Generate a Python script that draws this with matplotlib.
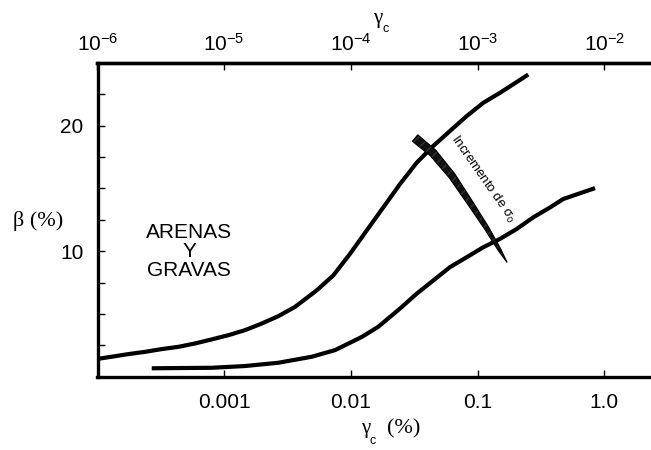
import numpy as np
import matplotlib
matplotlib.use("Agg")
import matplotlib.pyplot as plt
from matplotlib.patches import Polygon

plt.rcParams['font.family'] = ['Liberation Sans', 'DejaVu Sans']
plt.rcParams['mathtext.fontset'] = 'custom'
plt.rcParams['mathtext.rm'] = 'Liberation Sans'
plt.rcParams['mathtext.it'] = 'Liberation Sans'

# curva superior (gamma_c en %, beta en %)
x_sup = [1.0e-4, 1.29e-4, 1.75e-4, 2.37e-4, 3.21e-4, 4.35e-4, 5.89e-4, 7.96e-4,
         1.08e-3, 1.46e-3, 1.98e-3, 2.67e-3, 3.62e-3, 5.37e-3, 7.26e-3,
         9.84e-3, 1.33e-2, 1.80e-2, 2.44e-2, 3.31e-2, 4.47e-2, 6.05e-2, 8.20e-2,
         0.111, 0.150, 0.204, 0.251]
b_sup = [1.42, 1.59, 1.80, 1.98, 2.20, 2.38, 2.65, 2.97,
         3.31, 3.71, 4.24, 4.82, 5.56, 6.88, 8.07,
         9.79, 11.64, 13.49, 15.35, 17.06, 18.39, 19.58, 20.77,
         21.83, 22.62, 23.49, 24.08]

# curva inferior
x_inf = [2.68e-4, 4.35e-4, 7.96e-4, 1.46e-3, 2.67e-3, 4.91e-3, 7.50e-3, 1.22e-2,
         1.64e-2, 2.44e-2, 3.31e-2, 4.47e-2, 6.05e-2, 8.20e-2, 0.111, 0.150,
         0.204, 0.275, 0.373, 0.474, 0.845]
b_inf = [0.67, 0.69, 0.71, 0.85, 1.11, 1.59, 2.12, 3.17,
         3.97, 5.43, 6.62, 7.67, 8.73, 9.52, 10.32, 10.98,
         11.78, 12.70, 13.49, 14.16, 15.03]

# flecha "incremento de sigma_0" (eje central y semiancho en px)
x_band = [0.0321, 0.0445, 0.0628, 0.0871, 0.1186, 0.150, 0.171]
b_band = [19.02, 17.83, 16.01, 13.87, 11.80, 10.06, 9.10]
w_band = [4.2, 3.9, 3.4, 2.8, 2.2, 1.4, 0.0]

xticks_bot = [0.001, 0.01, 0.1, 1.0]
xlabels_bot = ['0.001', '0.01', '0.1', '1.0']
xticks_top = [1e-6, 1e-5, 1e-4, 1e-3, 1e-2]
xlabels_top = ['$10^{-6}$', '$10^{-5}$', '$10^{-4}$', '$10^{-3}$', '$10^{-2}$']
yticks = np.arange(2.5, 25, 2.5)

W, H = 651, 450
x0, dec = 97.5, 126.7   # px del borde izquierdo (1e-4 %) y de una decada

fig = plt.figure(figsize=(W / 100, H / 100), dpi=100)
ax = fig.add_axes([x0 / W, 1 - 376.7 / H, 1 - x0 / W, (376.7 - 63) / H])

ax.plot(x_sup, b_sup, color='black', lw=3, solid_capstyle='butt')
ax.plot(x_inf, b_inf, color='black', lw=3, solid_capstyle='butt')

ax.set_xscale('log')
ax.set_xlim(1e-4, 10 ** ((W - x0) / dec - 4))
ax.set_ylim(0, 25)

ax.set_xticks(xticks_bot)
ax.set_xticklabels(xlabels_bot)
ax.xaxis.set_minor_locator(plt.NullLocator())
ax.set_yticks(yticks)
ax.set_yticklabels(['10' if v == 10 else '20' if v == 20 else '' for v in yticks])
ax.tick_params(direction='in', length=5, width=1, labelsize=15, pad=10)
ax.tick_params(axis='x', pad=12)

for s in ['left', 'bottom', 'top']:
    ax.spines[s].set_linewidth(2.4)
ax.spines['right'].set_visible(False)

top = ax.secondary_xaxis('top', functions=(lambda v: v / 100, lambda v: v * 100))
top.set_xticks(xticks_top)
top.set_xticklabels(xlabels_top)
top.xaxis.set_minor_locator(plt.NullLocator())
top.tick_params(direction='in', length=5, width=1, labelsize=15, pad=6)
top.spines['top'].set_linewidth(2.4)

# banda de la flecha en coordenadas de pantalla
fig.canvas.draw()
pts = ax.transData.transform(np.column_stack([x_band, b_band]))
d = np.gradient(pts, axis=0)
n = np.column_stack([-d[:, 1], d[:, 0]])
n /= np.linalg.norm(n, axis=1)[:, None]
w = np.array(w_band)[:, None]
poly = np.vstack([pts + n * w, (pts - n * w)[::-1]])
ax.add_patch(Polygon(poly, closed=True, transform=None, facecolor='#111111',
                     edgecolor='#333333', hatch='///', lw=0, zorder=3))
ax.add_patch(Polygon(poly, closed=True, transform=None, facecolor='none',
                     edgecolor='black', lw=0.8, zorder=4))

ax.text(0.110, 15.77, r'Incremento de $\sigma_0$', rotation=-55, fontsize=9.5,
        ha='center', va='center', rotation_mode='anchor')

ax.text(5.27e-4, 9.98, 'ARENAS\nY\nGRAVAS', fontsize=15, ha='center', va='center',
        linespacing=1.0)

serif = ['Liberation Serif', 'DejaVu Serif']
fig.text(38 / W, 1 - 221 / H, 'β (%)', family=serif, fontsize=16,
         ha='center', va='center')
fig.text(366 / W, 1 - 429 / H, 'γ', family=serif, fontsize=15,
         ha='center', va='center')
fig.text(373 / W, 1 - 441 / H, 'c', fontsize=9, ha='center', va='center')
fig.text(404 / W, 1 - 429 / H, '(%)', family=serif, fontsize=16,
         ha='center', va='center')
fig.text(378 / W, 1 - 19 / H, 'γ', family=serif, fontsize=15,
         ha='center', va='center')
fig.text(386 / W, 1 - 29 / H, 'c', fontsize=9, ha='center', va='center')

fig.savefig('out.png', dpi=100)
